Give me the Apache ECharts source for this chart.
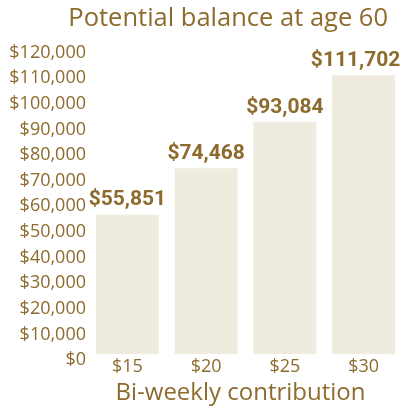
<!DOCTYPE html>
<html>
<head>
<meta charset="utf-8">
<script src="https://cdn.jsdelivr.net/npm/echarts@6/dist/echarts.min.js"></script>
<style>
  html, body { margin: 0; padding: 0; background: #fff; }
  #chart { width: 400px; height: 406px; }
</style>
</head>
<body>
<div id="chart"></div>
<script>
// data
const categories = ['$15', '$20', '$25', '$30'];
const balances = [55851, 74468, 93084, 111702];
const yTicks = [0, 10000, 20000, 30000, 40000, 50000, 60000, 70000, 80000, 90000, 100000, 110000, 120000];

const gold = '#8D6B2D';
const barColor = '#EFEBDF';
const bodyFont = '"Open Sans", "Noto Sans", sans-serif';
const boldFont = 'Roboto, "Liberation Sans", sans-serif';

const fmt = v => '$' + v.toLocaleString('en-US');

const chart = echarts.init(document.getElementById('chart'));

// last label is pulled left so it stays inside the picture
const barData = balances.map((v, i) => ({
  value: v,
  label: i === balances.length - 1 ? { offset: [-8, 0] } : undefined
}));

const option = {
  animation: false,
  title: {
    text: 'Potential balance at age 60',
    right: 12,
    top: 6,
    padding: 0,
    textStyle: { fontFamily: bodyFont, fontSize: 25.5, fontWeight: 'normal', color: gold }
  },
  grid: [
    // bars
    { left: 88, width: 315, top: 54.6, height: 299.4, outerBoundsMode: 'none' },
    // tick label axis (labels sit slightly lower than the bar scale)
    { left: 88, width: 315, top: 52.7, height: 307.3, outerBoundsMode: 'none' }
  ],
  xAxis: [
    {
      type: 'category',
      gridIndex: 0,
      data: categories,
      axisLine: { show: false },
      axisTick: { show: false },
      axisLabel: { fontFamily: bodyFont, fontSize: 18, color: gold, margin: 4 },
      name: 'Bi-weekly contribution',
      nameLocation: 'middle',
      nameGap: 25,
      nameTextStyle: { fontFamily: bodyFont, fontSize: 24, color: gold, padding: [0, 0, 0, -10] }
    },
    { type: 'category', gridIndex: 1, data: categories, show: false }
  ],
  yAxis: [
    { type: 'value', gridIndex: 0, min: 0, max: 120000, show: false, splitLine: { show: false } },
    {
      type: 'value',
      gridIndex: 1,
      min: yTicks[0],
      max: yTicks[yTicks.length - 1],
      interval: yTicks[1] - yTicks[0],
      axisLine: { show: false },
      axisTick: { show: false },
      splitLine: { show: false },
      axisLabel: { fontFamily: bodyFont, fontSize: 18, color: gold, margin: 2, formatter: fmt }
    }
  ],
  series: [
    {
      type: 'bar',
      xAxisIndex: 0,
      yAxisIndex: 0,
      data: barData,
      barWidth: 63,
      itemStyle: { color: barColor },
      label: {
        show: true,
        position: 'top',
        distance: 4,
        formatter: p => fmt(p.value),
        fontFamily: boldFont,
        fontWeight: 'bold',
        fontSize: 21,
        color: gold
      }
    }
  ]
};

chart.setOption(option);
window.addEventListener('resize', () => chart.resize());
</script>
</body>
</html>
